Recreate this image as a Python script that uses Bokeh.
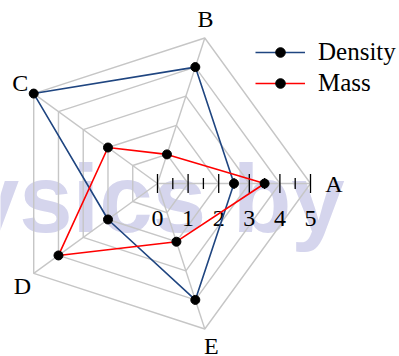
import numpy as np
from bokeh.plotting import figure
from bokeh.models import Range1d, Legend, LegendItem
from bokeh.core.properties import value
from bokeh.embed import file_html
from bokeh.resources import INLINE

# ---- data -------------------------------------------------------------
categories = ["A", "B", "C", "D", "E"]
density = [2.5, 4, 5, 2, 4]
mass = [3.5, 1, 2, 4, 2]
tick_values = [0, 1, 2, 3, 4, 5]
tick_labels = ["0", "1", "2", "3", "4", "5"]
minor_tick_values = [0.5, 1.5, 2.5, 3.5, 4.5]
ring_levels = [1, 2, 3, 4, 5]

# ---- geometry / style -------------------------------------------------
W, H = 399, 356
U = 30.6            # pixels per radial unit
CX, CY = 157, 183   # pixel position of the centre
R_MAX = 5
angles = np.deg2rad(np.arange(len(categories)) * 72.0)

SERIF_NAME = "Liberation Serif"
SERIF = value(SERIF_NAME)
GRID = "#c6c6c6"
BLUE = "#1f4580"
RED = "#ff0000"


def to_xy(vals, close=True):
    v = np.asarray(vals, dtype=float)
    xs = v * np.cos(angles)
    ys = v * np.sin(angles)
    if close:
        xs = np.append(xs, xs[0])
        ys = np.append(ys, ys[0])
    return list(xs), list(ys)


p = figure(width=W, height=H,
           x_range=Range1d(-CX / U, (W - CX) / U),
           y_range=Range1d(-(H - CY) / U, CY / U),
           output_backend="svg", toolbar_location=None, min_border=0)
p.axis.visible = False
p.grid.visible = False
p.outline_line_color = None
p.background_fill_color = "white"

# faint background watermark
p.text(x=[(-152 - CX) / U], y=[(CY - 198) / U], text=["physics by"],
       text_font=value("Liberation Sans"), text_font_style="bold",
       text_font_size="96px", text_color="#d5d5ed",
       text_align="left", text_baseline="alphabetic")

# pentagon rings
ring_xs, ring_ys = [], []
for lev in ring_levels:
    xs, ys = to_xy([lev] * len(categories))
    ring_xs.append(xs)
    ring_ys.append(ys)
p.multi_line(ring_xs, ring_ys, line_color=GRID, line_width=1.4)

# spokes
sx, sy = to_xy([R_MAX] * len(categories), close=False)
p.segment(x0=[0] * len(sx), y0=[0] * len(sy), x1=sx, y1=sy,
          line_color=GRID, line_width=1.4)

# ticks along the A axis
p.segment(x0=tick_values, y0=[-9.5 / U] * len(tick_values),
          x1=tick_values, y1=[9.5 / U] * len(tick_values),
          line_color="black", line_width=1.3)
p.segment(x0=minor_tick_values, y0=[-5.5 / U] * len(minor_tick_values),
          x1=minor_tick_values, y1=[5.5 / U] * len(minor_tick_values),
          line_color="black", line_width=1.3)
p.text(x=tick_values, y=[-35 / U] * len(tick_values), text=tick_labels,
       text_font=SERIF, text_font_size="24px", text_color="black",
       text_align="center", text_baseline="middle")

# category labels
LABEL_R = 5.6
lx, ly = to_xy([LABEL_R] * len(categories), close=False)
x_off = [5, -5, 1.5, 3.5, 1]
y_off = [0, -2, 0, 1.5, 0]
p.text(x=lx, y=ly, text=categories, x_offset=x_off, y_offset=y_off,
       text_font=SERIF, text_font_size="24px", text_color="black",
       text_align="center", text_baseline="middle")

# series
dx, dy = to_xy(density)
d_line = p.line(dx, dy, line_color=BLUE, line_width=1.6)
d_pts = p.scatter(dx[:-1], dy[:-1], size=9, fill_color="black", line_color="black")

mx, my = to_xy(mass)
m_line = p.line(mx, my, line_color=RED, line_width=1.6)
m_pts = p.scatter(mx[:-1], my[:-1], size=9, fill_color="black", line_color="black")

legend = Legend(items=[LegendItem(label="Density", renderers=[d_line, d_pts]),
                       LegendItem(label="Mass", renderers=[m_line, m_pts])],
                location=(255, 259), orientation="vertical",
                glyph_width=50, glyph_height=24, label_height=24,
                label_standoff=13, spacing=3, padding=0, margin=0,
                label_text_font=SERIF_NAME, label_text_font_size="25px",
                label_text_color="black",
                border_line_alpha=0, background_fill_alpha=0)
p.add_layout(legend)

open("out.html", "w").write(file_html(p, INLINE))
